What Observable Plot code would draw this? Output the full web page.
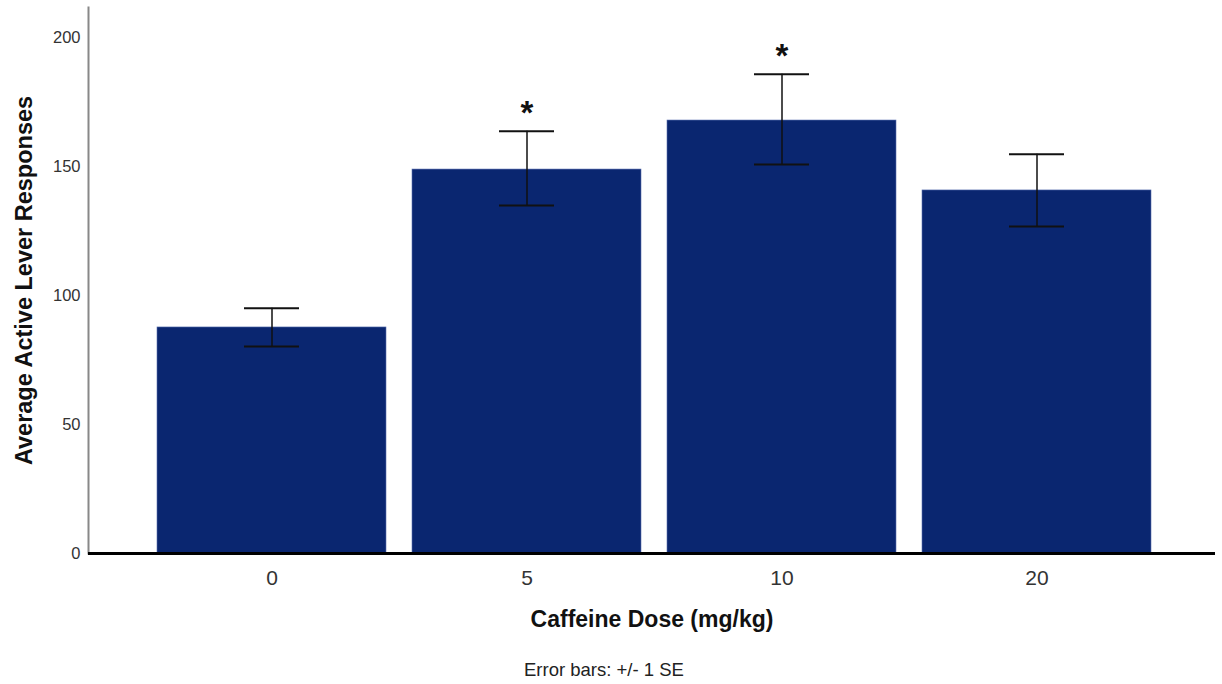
<!DOCTYPE html>
<html>
<head>
<meta charset="utf-8">
<script src="https://cdn.jsdelivr.net/npm/d3@7"></script>
<script src="https://cdn.jsdelivr.net/npm/@observablehq/plot@0.6"></script>
<style>
  body { margin: 0; background: #fff; font-family: "Liberation Sans", Arial, sans-serif; }
  #wrap { position: relative; width: 1222px; height: 684px; }
  #caption { position: absolute; left: 524px; top: 660px; font-size: 18.5px; line-height: 20px; color: #222; white-space: nowrap; }
</style>
</head>
<body>
<div id="wrap">
  <div id="chart"></div>
  <div id="caption">Error bars: +/- 1 SE</div>
</div>
<script>
const doses = ["0", "5", "10", "20"];
const means = [87.6, 148.8, 167.8, 140.7];
const seLow = [80.2, 134.9, 150.8, 126.7];
const seHigh = [95.0, 163.6, 185.7, 154.7];
const significant = [false, true, true, false];
const yTicks = [0, 50, 100, 150, 200];

const data = doses.map((d, i) => ({dose: d, mean: means[i], lo: seLow[i], hi: seHigh[i], sig: significant[i]}));

const chart = Plot.plot({
  width: 1222,
  height: 650,
  marginLeft: 88,
  marginRight: 7,
  marginTop: 7,
  marginBottom: 97,
  style: {fontFamily: "'Liberation Sans', Arial, sans-serif", background: "#fff"},
  x: {type: "band", domain: doses, range: [157, 1151], paddingInner: 0.102, paddingOuter: 0, label: null},
  y: {domain: [0, 211.6], label: null},
  marks: [
    Plot.barY(data, {x: "dose", y: "mean", fill: "#0a2670", stroke: "#5a70b0", strokeWidth: 0.6}),
    Plot.ruleX(data, {x: "dose", y1: "lo", y2: "hi", stroke: "#111", strokeWidth: 1.5}),
    Plot.tickY(data, {x: "dose", y: "lo", stroke: "#111", strokeWidth: 2, insetLeft: 87, insetRight: 87}),
    Plot.tickY(data, {x: "dose", y: "hi", stroke: "#111", strokeWidth: 2, insetLeft: 87, insetRight: 87}),
    Plot.text(data.filter(d => d.sig), {x: "dose", y: "hi", text: () => "*", fontSize: 33, fontWeight: "bold", fill: "#111", lineAnchor: "bottom", dy: -7}),
    Plot.axisY({ticks: yTicks, tickSize: 0, tickPadding: 8, fontSize: 16.5, fill: "#333", label: null}),
    Plot.axisX({tickSize: 0, tickPadding: 17, fontSize: 21, fill: "#333", label: null}),
    Plot.frame({anchor: "left", stroke: "#888", strokeWidth: 2}),
    Plot.ruleY([0], {stroke: "#000", strokeWidth: 3}),
    Plot.text(["Average Active Lever Responses"], {frameAnchor: "left", textAnchor: "middle", rotate: -90, dx: -64, fontSize: 23.5, fontWeight: "bold", fill: "#111"}),
    Plot.text(["Caffeine Dose (mg/kg)"], {frameAnchor: "bottom", dy: 73, fontSize: 23, fontWeight: "bold", fill: "#111"})
  ]
});
document.getElementById("chart").appendChild(chart);
</script>
</body>
</html>
